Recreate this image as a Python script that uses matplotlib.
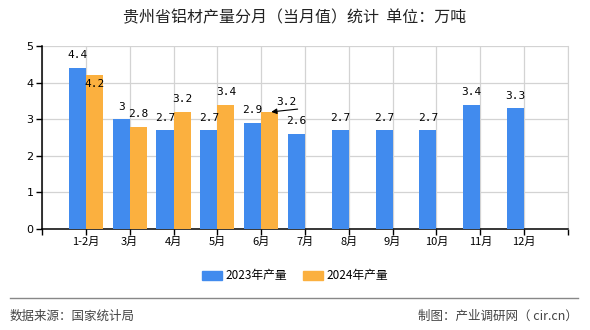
import matplotlib
matplotlib.use('Agg')
import matplotlib.pyplot as plt
from matplotlib.lines import Line2D
from matplotlib.patches import Patch

plt.rcParams['font.family'] = ['Noto Sans CJK SC', 'DejaVu Sans']

months = ['1-2月', '3月', '4月', '5月', '6月', '7月', '8月', '9月', '10月', '11月', '12月']
output_2023 = [4.4, 3, 2.7, 2.7, 2.9, 2.6, 2.7, 2.7, 2.7, 3.4, 3.3]
output_2024 = [4.2, 2.8, 3.2, 3.4, 3.2]
series_names = ['2023年产量', '2024年产量']

blue = '#418bee'
orange = '#fbb03f'
grid_col = '#d3d3d3'
w = 0.39

fig = plt.figure(figsize=(5.9, 3.3), dpi=100)
ax = fig.add_axes([42 / 590, 1 - 229 / 330, 526 / 590, 183 / 330])

xs = list(range(len(months)))
ax.bar(xs, output_2023, width=-w, align='edge', color=blue, zorder=3)
ax.bar(xs[:len(output_2024)], output_2024, width=w, align='edge', color=orange, zorder=3)

ax.set_xlim(-1, len(months))
ax.set_ylim(0, 5)
ax.set_xticks(range(-1, len(months) + 1))
ax.set_xticklabels([''] + months + [''], fontsize=8)
ax.set_yticks(range(0, 6))
ax.set_yticklabels([str(v) for v in range(0, 6)], fontsize=8, family='DejaVu Sans')
ax.grid(True, color=grid_col, lw=0.9, zorder=0)
ax.tick_params(axis='both', length=4, width=1, color='black', pad=2)
ax.spines['top'].set_visible(False)
ax.spines['right'].set_color(grid_col)
ax.spines['left'].set_linewidth(1.1)
ax.spines['bottom'].set_linewidth(1.1)

lab = dict(ha='center', va='center', fontsize=8, family='DejaVu Sans Mono',
           textcoords='offset points', zorder=5)

def fmt(v):
    return ('%g' % v)

for i, v in enumerate(output_2023):
    ax.annotate(fmt(v), (i - w / 2, v), xytext=(0, 9), **lab)

for i, v in enumerate(output_2024):
    if i == 0:
        # sits just under the top edge, the 2023 label takes the space above
        ax.annotate(fmt(v), (i + w / 2, v), xytext=(0, -6), **lab)
    elif i == 4:
        tip = (i + 0.23, v)
        ax.annotate('', xy=tip, xytext=(19, 2), textcoords='offset points',
                    arrowprops=dict(arrowstyle='-|>', color='black', lw=0.8,
                                    mutation_scale=8, shrinkA=0, shrinkB=0),
                    zorder=5)
        ax.annotate(fmt(v), tip, xytext=(11, 7), **lab)
    else:
        ax.annotate(fmt(v), (i + w / 2, v), xytext=(0, 9), **lab)

fig.text(0.5, 1 - 18 / 330, '贵州省铝材产量分月（当月值）统计  单位：万吨',
         ha='center', va='center', fontsize=11.5, color='#222222')

handles = [Patch(color=blue), Patch(color=orange)]
fig.legend(handles, series_names, loc='center', bbox_to_anchor=(0.5, 1 - 276 / 330),
           ncol=2, frameon=False, fontsize=8.5, handlelength=1.7, handleheight=0.8,
           handletextpad=0.35, columnspacing=1.3)

fig.add_artist(Line2D([10 / 590, 578 / 590], [1 - 298 / 330] * 2, color='#888888', lw=1))
fig.text(10 / 590, 1 - 316 / 330, '数据来源：国家统计局', ha='left', va='center',
         fontsize=9, color='#444444')
fig.text(578 / 590, 1 - 316 / 330, '制图：产业调研网（ cir.cn）', ha='right', va='center',
         fontsize=9, color='#444444')

fig.savefig('out.png', dpi=100)
